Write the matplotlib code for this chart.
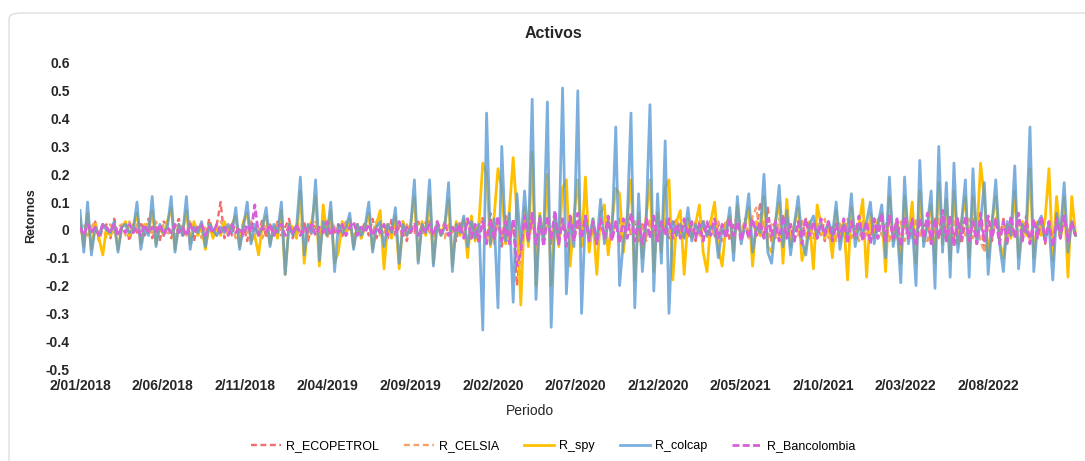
import matplotlib
matplotlib.use("Agg")
import matplotlib.pyplot as plt
import pandas as pd
from matplotlib.patches import FancyBboxPatch

# weekly returns, in percent
ecopetrol = [
    2, -3, 4, -1, 3, -4, 1, 2, -3, 4, -2, 1, 3, -4, 2, -1, 3, -2, 4, -3,
    1, -4, 3, 2, -3, 1, 4, -2, -1, 3, -4, 2, 1, -3, 4, -1, 2, 10, -3, 1,
    -2, 3, -1, 2, -4, 3, 1, -2, 4, -3, 2, -1, 3, -2, 1, 4, -3, 2, -1, 3,
    -4, 2, 1, -3, 3, -2, 4, -1, 2, -3, 1, 3, -4, 2, -1, 3, -2, 4, -3, 1,
    2, -3, 4, -2, 1, 3, -4, 2, -1, 3, -2, 1, 4, -3, 2, -1, 3, -2, 1, -4,
    3, -2, 4, -3, 2, -5, 5, -4, 6, -3, 4, -6, 5, -4, 3, -20, -8, 6, -5, 4,
    -6, 5, -3, 4, -5, 6, -4, 3, -2, 5, -4, 3, -5, 4, -3, 2, -4, 3, -2, 4,
    -3, 2, 4, -3, 5, -2, 3, -4, 2, -3, 4, -2, 3, -4, 2, -3, 1, 4, -2, 3,
    -3, 2, -4, 3, 1, -2, 4, -3, 2, -1, 3, -4, 2, 5, -3, 4, -2, 3, -1, 10,
    -3, 8, -4, 3, -2, 5, -3, 2, -4, 3, -2, 4, -3, 2, -1, 3, -4, 2, -3, 4,
    -2, 3, -4, 5, -3, 2, -4, 3, -2, 4, -3, 5, -4, 3, -2, 4, -5, 3, -2, 4,
    -3, 5, -4, 3, -5, 4, -3, 2, -4, 5, -3, 4, -5, 3, -2, 4, -3, 5, -8, 3,
    -4, 5, -3, 4, -5, 3, -2, 4, -3, 5, -4, 3, -2, 4, -5, 3, -4, 5, -3, 4, -2, 3, -3,
]
celsia = [
    -1, 2, -2, 1, 3, -2, 1, -3, 2, -1, 1, 2, -2, 3, -1, 2, -3, 1, 2, -2,
    3, -1, 2, -2, 1, -3, 2, 1, -2, 3, -1, 2, -3, 1, 2, -1, -2, 3, 1, -2,
    2, -3, 1, 2, -1, 3, -2, 1, -3, 2, 1, -2, 3, -1, -2, 2, 1, -3, 2, -1,
    1, -2, 3, -1, 2, -3, 1, 2, -2, 1, 3, -1, -2, 2, -3, 1, 2, -1, 3, -2,
    -1, 2, -2, 3, 1, -3, 2, -1, 1, 2, -2, 3, -1, -2, 2, 1, -3, 2, -1, 1,
    2, -2, 3, -1, -3, 2, 4, -4, 3, -5, 4, -3, 5, -4, 2, -8, -5, 4, -3, 3,
    -4, 3, -2, 4, -3, 2, -4, 3, -2, 3, -3, 4, -2, 3, -4, 2, -3, 3, -2, 2,
    -2, 3, -3, 2, 4, -2, 3, -3, 2, -4, 3, -2, 2, -3, 4, -2, 3, -2, 2, -3,
    2, -3, 3, -2, 4, -3, 2, -2, 3, -4, 2, 3, -3, 2, -2, 4, -3, 5, 8, -3,
    3, -4, 2, -3, 4, -2, 3, -3, 2, -2, 4, -3, 2, -3, 3, -2, 4, -3, 2, -4,
    3, -2, 4, -3, 2, -4, 3, -2, 3, -3, 4, -2, 3, -4, 2, -3, 3, -4, 2, -3,
    4, -3, 2, -4, 3, -2, 4, -3, 2, -3, 4, -5, 3, -2, 4, -3, 2, -4, -8, 3,
    -3, 4, -2, 3, -4, 2, -3, 4, -2, 3, -4, 2, -3, 4, -2, 3, -4, 2, -3, 4, -2, 3, -2,
]
spy = [
    4, -6, 6, -7, 2, -3, -9, 1, -2, 2, -7, 1, 3, -2, 1, 6, -5, 2, -1, 7,
    -5, 1, -2, 3, 8, -7, 2, -1, 7, -5, 3, -2, 1, -7, 2, -3, 1, -2, 3, -1,
    2, 5, -6, 3, 6, -4, -2, -9, 2, 5, -5, 1, -3, 7, -16, 2, 1, -3, 14, -12,
    1, 3, 12, -13, 9, -2, 7, -12, -8, 3, -2, 4, -6, 2, -3, 1, 6, -7, 2, 7,
    -14, 2, -3, 5, -14, 3, -2, 2, 12, -11, 3, -2, 12, -12, 3, -2, 2, 11, -13, 3,
    -2, 4, -10, 5, -4, 3, 24, 20, -6, 5, 22, 15, -5, 7, 26, 5, -27, 8, -6, 28,
    -20, 6, -5, 20, -20, 5, -6, 15, 18, -13, 5, 18, -6, 19, -8, 4, -16, 6, 9, -9,
    3, 15, 13, -8, 4, 18, -18, 6, -10, 5, 18, -15, 6, -8, 15, 18, -18, 3, 7, -16,
    4, -3, 2, 9, -8, -15, 3, 10, -7, -13, 2, 5, -8, 9, -3, 2, 8, -13, 3, -2,
    12, -6, -8, 3, 10, -12, 11, -6, 2, 8, -11, -6, 3, -14, 9, 2, -3, 2, -10, 7,
    -4, 3, -18, 8, -3, 2, 11, -17, 6, -2, 3, 6, -15, 12, -4, 2, -12, 12, -3, 10,
    -12, 14, -4, 2, 9, -12, 17, -5, 11, -11, 14, -5, 3, 12, -10, 12, -3, 24, 11, -10,
    3, 12, -4, -10, 2, -3, 14, -10, 3, -2, 22, -10, 3, -2, 4, 22, -11, 12, -3, 12, -17, 12, -2,
]
colcap = [
    7, -8, 10, -9, 1, -2, 2, 0, -1, 3, -8, 1, 2, -1, 0, 10, -7, 1, -2, 12,
    -6, 2, -1, 1, 12, -8, 2, -2, 12, -7, 1, -1, 3, -6, 2, 0, -2, 1, -1, 2,
    -1, 8, -7, 1, 10, -5, 2, -2, 1, 8, -6, 2, -1, 10, -16, 2, -2, 1, 19, -9,
    2, -1, 18, -11, 3, -2, 10, -15, 2, -1, 1, 6, -7, 2, -2, 1, 10, -8, 1, 3,
    -6, 2, -1, 8, -12, 2, -2, 1, 18, -12, 2, -1, 18, -13, 2, -2, 1, 17, -15, 2,
    -1, 5, -6, 3, -3, 2, -36, 42, -5, 4, -28, 30, -4, 6, -26, 13, -6, 14, -4, 47,
    -25, 5, -4, 46, -35, 6, -5, 51, -23, 4, -6, 50, -30, 5, -3, 4, -5, 11, -5, 3,
    -2, 37, -20, -4, 3, 42, -28, 13, -15, 4, 45, -22, 13, -12, 32, -30, 3, -2, 2, -3,
    8, -4, 2, -1, 3, -2, 1, 2, -10, 1, -2, 8, -11, 12, -5, 2, 13, -8, 1, -1,
    20, -8, -12, 2, 16, -6, 7, -9, 2, 12, -4, -9, 2, 5, -3, 2, -1, 3, -2, 10,
    -7, 2, -2, 13, -6, 2, -1, 3, 10, -5, 2, 9, -10, 19, -6, 2, -19, 19, -5, 3,
    -20, 25, -6, 2, 14, -21, 30, -8, 17, -17, 24, -8, 3, 18, -17, 22, -5, 3, 17, -16,
    2, 18, -5, -15, 3, -2, 23, -14, 2, -1, 37, -15, 2, 5, -4, 2, -18, 6, -2, 17, -8, 3, -2,
]
bancolombia = [
    1, -2, 2, -1, 1, -2, 2, 1, -1, 2, -2, 1, -1, 2, -1, 1, -2, 2, -1, 1,
    -1, 2, -2, 1, -1, 2, -1, 1, -2, 2, -1, 1, 2, -2, 1, -1, 2, -1, 1, -2,
    2, -1, 1, -2, 2, -1, 9, -2, 1, -1, 2, -2, 1, 2, -2, 1, -1, 2, -2, 1,
    -1, 2, -2, 1, -1, 3, -2, 1, -1, 2, -2, 1, 3, -2, 1, -1, 2, -2, 1, -1,
    2, -2, 1, -1, 3, -2, 1, -1, 2, -2, 1, -1, 2, -2, 3, -1, 2, -2, 1, -1,
    2, -3, 4, -3, 2, -4, 3, -5, 4, -3, 5, -4, 3, -5, 4, -13, -8, 5, -4, 6,
    -5, 4, -6, 5, -3, 7, -5, 4, -6, 5, -4, 6, -3, 5, -4, 3, -5, 4, -3, 5,
    -4, 3, -5, 4, -3, 6, -4, 3, -5, 4, -3, 5, -4, 3, -2, 4, -3, 2, -3, 4,
    -2, 3, -3, 2, -4, 3, -2, 4, -3, 2, -3, 4, -2, 3, -4, 2, -3, 4, -2, 3,
    -3, 4, -2, 3, -4, 5, -3, 2, -4, 3, -5, 4, -2, 3, -3, 4, -2, 3, -4, 2,
    -3, 4, -5, 3, -2, 5, -4, 3, -5, 4, -3, 6, -4, 5, -3, 4, -6, 5, -3, 4,
    -5, 4, -3, 6, -5, 4, -3, 7, -4, 5, -6, 4, -3, 5, -4, 3, -5, 6, -4, 5,
    -3, 4, -5, 3, -4, 5, -3, 6, -4, 3, -5, 4, -3, 5, -4, 3, -6, 4, -3, 5, -4, 3, -2,
]

series = [
    ("R_ECOPETROL", ecopetrol, "#F26D6D", (0, (2.5, 1.5)), 1.7, 1.0),
    ("R_CELSIA", celsia, "#F4A267", (0, (2.5, 1.5)), 1.7, 1.0),
    ("R_spy", spy, "#FFC000", "-", 2.0, 1.0),
    ("R_colcap", colcap, "#5B9BD5", "-", 2.0, 0.8),
    ("R_Bancolombia", bancolombia, "#D95ED9", (0, (2.5, 1.2)), 2.0, 1.0),
]

plt.rcParams["font.family"] = ["Liberation Sans", "DejaVu Sans"]
fig = plt.figure(figsize=(10.85, 4.61), dpi=100)
W, H = 1085, 461

frame = FancyBboxPatch((9 / W, -0.1), 1.2, 1 - 13 / H + 0.1,
                       boxstyle="round,pad=0,rounding_size=0.012",
                       transform=fig.transFigure, fill=False,
                       ec="#dedede", lw=1.0)
fig.patches.append(frame)

ax = fig.add_axes([80 / W, 1 - 369 / H, (1081 - 80) / W, (369 - 63) / H])
start = pd.Timestamp("2018-01-02")
for z, (name, vals, col, ls, lw, a) in enumerate(series):
    d = pd.date_range(start, periods=len(vals), freq="7D")
    ax.plot(d, [v / 100 for v in vals], color=col, ls=ls, lw=lw, alpha=a,
            label=name, zorder=2 + z)

ax.set_ylim(-0.5, 0.6)
ax.set_yticks([-0.5, -0.4, -0.3, -0.2, -0.1, 0, 0.1, 0.2, 0.3, 0.4, 0.5, 0.6])
ax.set_yticklabels(["-0.5", "-0.4", "-0.3", "-0.2", "-0.1", "0", "0.1",
                    "0.2", "0.3", "0.4", "0.5", "0.6"])
ax.set_xlim(start, start + pd.Timedelta(days=1844))
ticks = pd.date_range(start, periods=12, freq=pd.DateOffset(months=5))
ax.set_xticks(ticks)
ax.set_xticklabels([f"{t.day}/{t:%m/%Y}" for t in ticks])
for s in ax.spines.values():
    s.set_visible(False)
ax.tick_params(length=0, labelsize=10, colors="#262626", pad=7.5)
for lab in ax.get_xticklabels() + ax.get_yticklabels():
    lab.set_fontweight("bold")

fig.text(553 / W, 1 - 34 / H, "Activos", ha="center", va="center",
         fontsize=11.5, fontweight="bold", color="#262626")
fig.text(31 / W, 1 - 216 / H, "Retornos", ha="center", va="center",
         rotation=90, fontsize=9, fontweight="bold", color="#262626")
fig.text(530 / W, 1 - 411 / H, "Periodo", ha="center", va="center",
         fontsize=10, color="#262626")

fig.legend(loc="center", bbox_to_anchor=(553 / W, 1 - 446 / H), ncol=5,
           frameon=False, fontsize=9, handlelength=2.4, handletextpad=0.4,
           columnspacing=2.0)

fig.savefig("out.png", dpi=100)
